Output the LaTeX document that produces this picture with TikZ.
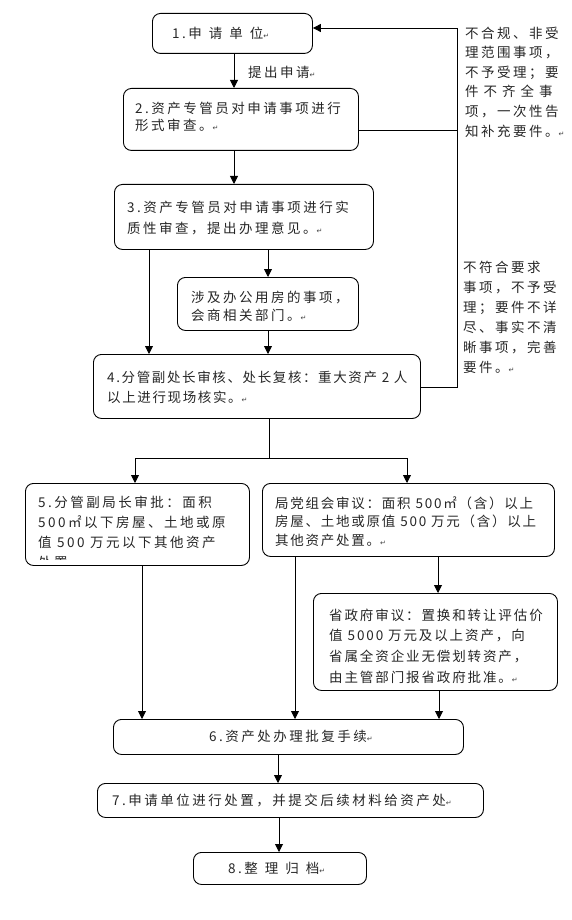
\documentclass[tikz,border=0pt]{standalone}
\usepackage{fontspec}
\setmainfont{Liberation Sans}
\newfontfamily\cjk[LetterSpace=18.5]{Noto Sans CJK SC}
\newfontfamily\dvfont{DejaVu Sans}
\usetikzlibrary{arrows.meta}
\newcommand\retmark{{\dvfont\fontsize{7}{7}\selectfont\textcolor{black!75}{↵}}}
\newcommand\gap{\hspace{7pt}}
\tikzset{
  box/.style={draw, line width=0.9pt, rounded corners=8pt, inner sep=0pt, anchor=north west},
  txt/.style={inner sep=0pt, anchor=north west, align=left, text=black!85},
  arr/.style={line width=0.9pt, -{Triangle[length=8pt,width=8pt]}},
  ln/.style={line width=0.9pt},
}
\newcommand\fs[1]{\cjk\fontsize{13.5}{#1}\selectfont}
\begin{document}
\begin{tikzpicture}[x=1pt,y=-1pt]
\useasboundingbox (0,0) rectangle (572,920);
% boxes
\node[box, minimum width=160pt, minimum height=40pt] (b1) at (152,13) {};
\node[box, minimum width=235pt, minimum height=62pt] (b2) at (123,88) {};
\node[box, minimum width=259pt, minimum height=65pt] (b3) at (114,184) {};
\node[box, minimum width=181pt, minimum height=53pt] (b3a) at (177,277) {};
\node[box, minimum width=327pt, minimum height=64pt] (b4) at (93,354) {};
\node[box, minimum width=224pt, minimum height=82pt] (b5) at (25,483) {};
\node[box, minimum width=292pt, minimum height=73pt] (b6p) at (262,483) {};
\node[box, minimum width=244pt, minimum height=97pt] (b6g) at (313,593) {};
\node[box, minimum width=350pt, minimum height=35pt] (b6) at (113,719) {};
\node[box, minimum width=386pt, minimum height=34pt] (b7) at (97,783) {};
\node[box, minimum width=173pt, minimum height=32pt] (b8) at (193,852) {};
% texts
\node[txt, font=\fs{20}] (t1) at (172,26.5) {1.申\gap 请\gap 单\gap 位\retmark};
\node[txt, font=\fs{20}] (lab) at (248,65.5) {提出申请\retmark};
\node[txt, font=\fs{17.5}] (t2) at (135,101.5) {2.资产专管员对申请事项进行\\形式审查。\retmark};
\node[txt, font=\fs{21}] (t3) at (127,200.5) {3.资产专管员对申请事项进行实\\质性审查，提出办理意见。\retmark};
\node[txt, font=\fs{18}] (t3a) at (191,290.5) {涉及办公用房的事项，\\会商相关部门。\retmark};
\node[txt, font=\fs{20}\addfontfeature{LetterSpace=12}] (t4) at (107,370.5) {4.分管副处长审核、处长复核：重大资产 2 人\\以上进行现场核实。\retmark};
\begin{scope}
\clip (25,483) rectangle (249,559);
\node[txt, font=\fs{20}] (t5) at (38,495.5) {5.分管副局长审批：面积\\500㎡以下房屋、土地或原\\值 500 万元以下其他资产\\处置};
\end{scope}
\node[txt, font=\fs{18.5}\addfontfeature{LetterSpace=13}] (t6p) at (275,496.5) {局党组会审议：面积 500㎡（含）以上\\房屋、土地或原值 500 万元（含）以上\\其他资产处置。\retmark};
\node[txt, font=\fs{20.7}\addfontfeature{LetterSpace=14}] (t6g) at (329,608.5) {省政府审议：置换和转让评估价\\值 5000 万元及以上资产，向\\省属全资企业无偿划转资产，\\由主管部门报省政府批准。\retmark};
\node[txt, font=\fs{20}] (t6) at (209,729.5) {6.资产处办理批复手续\retmark};
\node[txt, font=\fs{20}] (t7) at (112,793.5) {7.申请单位进行处置，并提交后续材料给资产处\retmark};
\node[txt, font=\fs{20}] (t8) at (228,861.5) {8.整\gap 理\gap 归\gap 档\retmark};
\node[txt, font=\fs{19.6}] (r1) at (465,26.5) {不合规、非受\\理范围事项，\\不予受理；要\\件\hspace{5pt}不\hspace{5pt}齐\hspace{5pt}全\hspace{5pt}事\\项，一次性告\\知补充要件。\retmark};
\node[txt, font=\fs{20}] (r2) at (463,260.5) {不符合要求\\事项，不予受\\理；要件不详\\尽、事实不清\\晰事项，完善\\要件。\retmark};
% connectors
\draw[arr] (b1.south -| 234,0) -- (b2.north -| 234,0);
\draw[arr] (b2.south -| 234,0) -- (b3.north -| 234,0);
\draw[arr] (b3.south -| 268,0) -- (b3a.north -| 268,0);
\draw[arr] (b3a.south -| 268,0) -- (b4.north -| 268,0);
\draw[arr] (b3.south -| 149,0) -- (b4.north -| 149,0);
\coordinate (rt) at (457,28);
\coordinate (rb) at (457,387);
\draw[arr] (b4.east |- rb) -- (rb) -- (rt) -- (b1.east |- rt);
\draw[ln] (b2.east |- 0,130) -- (rt |- 0,130);
\coordinate (sp) at (269,458);
\draw[ln] (b4.south -| sp) -- (sp);
\draw[arr] (sp) -- (135,458) -- (b5.north -| 135,0);
\draw[arr] (sp) -- (407,458) -- (b6p.north -| 407,0);
\draw[arr] (b5.south -| 142,0) -- (b6.north -| 142,0);
\draw[arr] (b6p.south -| 295,0) -- (b6.north -| 295,0);
\draw[arr] (b6p.south -| 438,0) -- (b6g.north -| 438,0);
\draw[arr] (b6g.south -| 439,0) -- (b6.north -| 439,0);
\draw[arr] (b6.south -| 278,0) -- (b7.north -| 278,0);
\draw[arr] (b7.south -| 279,0) -- (b8.north -| 279,0);
\end{tikzpicture}
\end{document}
